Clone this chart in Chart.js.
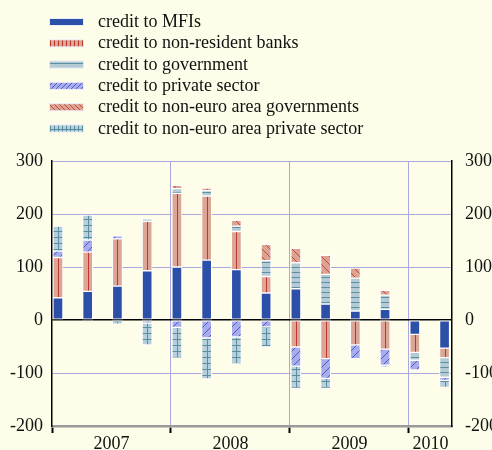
<!DOCTYPE html>
<html><head><meta charset="utf-8">
<script src="https://cdn.jsdelivr.net/npm/chart.js@4/dist/chart.umd.min.js"></script>
<style>html,body{margin:0;padding:0;background:#fefde9;}#wrap{width:492px;height:450px;}</style>
</head><body><div id="wrap"><canvas id="c" width="492" height="450"></canvas></div>
<script>
// ---- data ----
const quarters = ['2007Q1','2007Q2','2007Q3','2007Q4','2008Q1','2008Q2','2008Q3','2008Q4','2009Q1','2009Q2','2009Q3','2009Q4','2010Q1','2010Q2'];
const yearLabels = ['2007','2008','2009','2010'];
const yTickValues = [-200,-100,0,100,200,300];
const seriesNames = ['credit to MFIs','credit to non-resident banks','credit to government','credit to private sector','credit to non-euro area governments','credit to non-euro area private sector'];
const mfi        = [42, 54, 64, 93, 100, 113, 95, 51, 59, 30, 17, 20, -27, -53];
const banks      = [76, 74, 89, 93, 139, 121, 72, 31, -51, -73, -47, -55, -34, -18];
const government = [0, -2, 0, 5, 9, 10, 10, 30, 49, 56, 62, 27, -15, -37];
const privateSec = [12, 23, 6, -6, -14, -34, -32, -13, -36, -37, -26, -30, -18, -6];
const nonEuroGov = [0, 0, 0, 0, 6, 5, 11, 31, 27, 36, 19, 9, 0, 0];
const nonEuroPriv= [47, 47, -8, -41, -58, -77, -51, -38, -42, -19, 0, -4, 0, -13];

// ---- styles ----
const BG = '#fefde9', GRID = '#a9a9e0';
const FONT = {family: '"Liberation Serif", "Times New Roman", serif', size: 18};
const BAR_W = 10;
const baseCtx = document.getElementById('c').getContext('2d');
// tile painter: kind, bg, fg, tile width, tile height
function makeTile(spec) {
  const [kind, bg, fg, w, h] = spec;
  const c = document.createElement('canvas'); c.width = w; c.height = h;
  const g = c.getContext('2d');
  g.fillStyle = bg; g.fillRect(0, 0, w, h);
  g.strokeStyle = fg; g.lineWidth = 1; g.beginPath();
  const mx = Math.floor(w / 2) + 0.5, my = Math.floor(h / 2) + 0.5;
  if (kind === 'v' || kind === 'grid') { g.moveTo(mx, 0); g.lineTo(mx, h); }
  if (kind === 'h' || kind === 'grid') { g.moveTo(0, my); g.lineTo(w, my); }
  if (kind === 'fwd') { for (let o = -w; o <= w; o += w) { g.moveTo(o - 1, h + 1); g.lineTo(o + w + 1, -1); } }
  if (kind === 'back') { for (let o = -w; o <= w; o += w) { g.moveTo(o - 1, -1); g.lineTo(o + w + 1, h + 1); } }
  g.stroke();
  return c;
}
const SOLID = '#2c4fa7';
const barSpecs = [
  null,
  ['v', '#dca595', '#b73a2c', BAR_W, 10],
  ['h', '#b4cbd6', '#5c8fa0', BAR_W, 5],
  ['fwd', '#a9acea', '#4a5cc8', 8, 8],
  ['back', '#dca393', '#c04a3c', 8, 8],
  ['grid', '#b7cfda', '#5a8d9e', BAR_W, 6]
];
const legendSpecs = [
  null,
  ['v', '#dca595', '#b73a2c', 4, 4],
  ['h', '#b4cbd6', '#5c8fa0', 4, 6],
  ['fwd', '#a9acea', '#4a5cc8', 5, 5],
  ['back', '#dca393', '#c04a3c', 5, 5],
  ['grid', '#b7cfda', '#5a8d9e', 4, 6]
];
const barTiles = barSpecs.map(s => s && makeTile(s));
const legendStyles = legendSpecs.map(s => s ? baseCtx.createPattern(makeTile(s), 'repeat') : SOLID);
const patternCache = {};
function barStyle(k) {
  if (!barTiles[k]) return SOLID;
  return c => {
    if (c.type !== 'data' || !c.parsed || !c.chart.scales.x) return legendStyles[k];
    const left = Math.round(c.chart.scales.x.getPixelForValue(c.parsed.x) - BAR_W / 2);
    const key = k + ':' + left;
    if (!patternCache[key]) {
      const p = baseCtx.createPattern(barTiles[k], 'repeat');
      p.setTransform(new DOMMatrix().translate(left, 0));
      patternCache[key] = p;
    }
    return patternCache[key];
  };
}
const allSeries = [mfi, banks, government, privateSec, nonEuroGov, nonEuroPriv];

const SLOT_OFFSET = 0.2;
const X_MAX = 13.45;
const yearStarts = yearLabels.map((_, i) => i * 4);

const datasets = allSeries.map((arr, k) => ({
  label: seriesNames[k],
  data: arr.map((v, i) => ({x: i + SLOT_OFFSET, y: v === 0 ? null : v})),
  backgroundColor: barStyle(k),
  borderColor: '#ffffff',
  borderWidth: 1,
  borderSkipped: false,
  barThickness: BAR_W,
  xAxisID: 'x', yAxisID: 'y'
}));

const legendPlugin = {
  id: 'vlegend',
  beforeDraw(chart) {
    const ctx = chart.ctx; ctx.save(); ctx.fillStyle = BG; ctx.fillRect(0, 0, chart.width, chart.height); ctx.restore();
  },
  afterDraw(chart) {
    const ctx = chart.ctx; ctx.save();
    chart.data.datasets.forEach((ds, i) => {
      const cy = 22 + i * 21.3;
      ctx.fillStyle = '#e8ecf8';
      ctx.fillRect(49, cy - 4, 35, 8);
      ctx.fillStyle = legendStyles[i];
      ctx.fillRect(50, cy - 3, 33, 6);
      ctx.font = FONT.size + 'px ' + FONT.family;
      ctx.fillStyle = '#111';
      ctx.textBaseline = 'alphabetic';
      ctx.fillText(ds.label, 98, cy + 5);
    });
    ctx.restore();
  }
};

function yTicks(s) { s.ticks = yTickValues.map(v => ({value: v})); }

new Chart(document.getElementById('c'), {
  type: 'bar',
  data: {datasets},
  plugins: [legendPlugin],
  options: {
    responsive: false, animation: false,
    layout: {padding: {top: 161, left: 0, right: 0, bottom: 0}},
    plugins: {legend: {display: false}, tooltip: {enabled: false}},
    scales: {
      x: {
        type: 'linear', position: 'bottom', min: 0, max: X_MAX, stacked: true, offset: false,
        afterBuildTicks(s) {
          const t = [];
          yearStarts.forEach((st, i) => {
            const end = i + 1 < yearStarts.length ? yearStarts[i + 1] : X_MAX;
            t.push({value: st, kind: 'b'});
            t.push({value: (st + end) / 2, kind: 'c', yl: yearLabels[i]});
          });
          s.ticks = t;
        },
        afterFit(s) { s.height = 24; },
        ticks: {
          autoSkip: false, maxRotation: 0, font: FONT, color: '#111', padding: 0,
          callback(v, i, ticks) { return ticks[i].kind === 'c' ? ticks[i].yl : ''; }
        },
        grid: {
          offset: false,
          color: c => (c.tick && c.tick.kind === 'b' && c.tick.value > 0) ? GRID : 'rgba(0,0,0,0)',
          tickColor: c => (c.tick && c.tick.kind === 'b') ? '#000' : 'rgba(0,0,0,0)',
          tickLength: 7, tickWidth: 2, lineWidth: 1
        },
        border: {color: '#9a9a9a', width: 2.5}
      },
      y: {
        type: 'linear', position: 'left', min: -200, max: 300, stacked: true,
        afterBuildTicks: yTicks,
        afterFit(s) { s.width = 52; },
        ticks: {font: FONT, color: '#111', padding: 9},
        grid: {
          color: c => c.tick && c.tick.value === 0 ? '#000' : (c.tick && c.tick.value === -200 ? 'rgba(0,0,0,0)' : GRID),
          lineWidth: c => c.tick && c.tick.value === 0 ? 1.5 : 1,
          drawTicks: false
        },
        border: {color: '#000', width: 1.5}
      },
      y2: {
        type: 'linear', position: 'right', min: -200, max: 300,
        afterBuildTicks: yTicks,
        afterFit(s) { s.width = 40; },
        ticks: {font: FONT, color: '#111', padding: 13},
        grid: {display: false, drawTicks: false},
        border: {display: true, color: '#000', width: 1.5}
      }
    }
  }
});
</script></body></html>
